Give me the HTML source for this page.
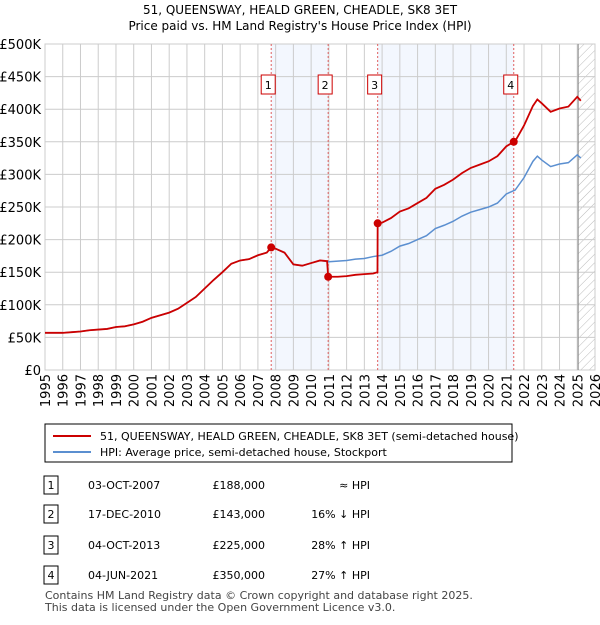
<!DOCTYPE html>
<html><head><meta charset="utf-8"><style>
body{margin:0;background:#fff;font-family:"Liberation Sans","DejaVu Sans",sans-serif;}
svg text{font-family:"DejaVu Sans","Liberation Sans",sans-serif;}
</style></head><body>
<svg id="c" width="600" height="620" xmlns="http://www.w3.org/2000/svg">
<defs><pattern id="hatch" width="6" height="6" patternUnits="userSpaceOnUse" patternTransform="rotate(45)"><line x1="0" y1="0" x2="0" y2="6" stroke="#bbb" stroke-width="1"/></pattern></defs>
<text x="300" y="14" text-anchor="middle" font-size="12">51, QUEENSWAY, HEALD GREEN, CHEADLE, SK8 3ET</text>
<text x="300" y="30" text-anchor="middle" font-size="12">Price paid vs. HM Land Registry's House Price Index (HPI)</text>
<g id="plot"></g>
<rect x="45" y="424" width="467" height="38" fill="#fff" stroke="#000" stroke-width="1"/>
<line x1="53" y1="436" x2="91" y2="436" stroke="#cc0000" stroke-width="2"/>
<text x="100" y="440" font-size="11">51, QUEENSWAY, HEALD GREEN, CHEADLE, SK8 3ET (semi-detached house)</text>
<line x1="53" y1="452" x2="91" y2="452" stroke="#5b8fd0" stroke-width="2"/>
<text x="100" y="456" font-size="11">HPI: Average price, semi-detached house, Stockport</text>
<g id="table"></g>
<text x="45" y="599" font-size="11" fill="#444">Contains HM Land Registry data © Crown copyright and database right 2025.</text>
<text x="45" y="611" font-size="11" fill="#444">This data is licensed under the Open Government Licence v3.0.</text>
</svg>
<script>
const hpiYears=[1995,1995.5,1996,1996.5,1997,1997.5,1998,1998.5,1999,1999.5,2000,2000.5,2001,2001.5,2002,2002.5,2003,2003.5,2004,2004.5,2005,2005.5,2006,2006.5,2007,2007.5,2007.75,2008,2008.5,2009,2009.5,2010,2010.5,2011,2011.5,2012,2012.5,2013,2013.5,2014,2014.5,2015,2015.5,2016,2016.5,2017,2017.5,2018,2018.5,2019,2019.5,2020,2020.5,2021,2021.5,2022,2022.5,2022.75,2023,2023.5,2024,2024.5,2025,2025.2];
const hpiValues=[57,57,57,58,59,61,62,63,66,67,70,74,80,84,88,94,103,112,125,138,150,163,168,170,176,180,188,186,180,162,160,164,168,166,167,168,170,171,174,176,182,190,194,200,206,217,222,228,236,242,246,250,256,270,276,295,320,328,322,312,316,318,330,325];
const priceYears=[1995,1995.5,1996,1996.5,1997,1997.5,1998,1998.5,1999,1999.5,2000,2000.5,2001,2001.5,2002,2002.5,2003,2003.5,2004,2004.5,2005,2005.5,2006,2006.5,2007,2007.5,2007.75,2008,2008.5,2009,2009.5,2010,2010.5,2010.9,2010.96,2011,2011.5,2012,2012.5,2013,2013.5,2013.74,2013.75,2014,2014.5,2015,2015.5,2016,2016.5,2017,2017.5,2018,2018.5,2019,2019.5,2020,2020.5,2021,2021.42,2021.5,2022,2022.5,2022.75,2023,2023.5,2024,2024.5,2025,2025.2];
const priceValues=[57,57,57,58,59,61,62,63,66,67,70,74,80,84,88,94,103,112,125,138,150,163,168,170,176,180,188,186,180,162,160,164,168,167,143,143,143,144,146,147,148,150,225,226,233,243,248,256,264,278,284,292,302,310,315,320,328,343,350,351,375,405,415,409,396,401,404,419,413];
const saleYears=[2007.75,2010.96,2013.75,2021.42];
const saleValues=[188,143,225,350];
const saleLabels=["1","2","3","4"];
const yTicks=[0,50,100,150,200,250,300,350,400,450,500];
const yTickLabels=["£0","£50K","£100K","£150K","£200K","£250K","£300K","£350K","£400K","£450K","£500K"];
const xTicks=[1995,1996,1997,1998,1999,2000,2001,2002,2003,2004,2005,2006,2007,2008,2009,2010,2011,2012,2013,2014,2015,2016,2017,2018,2019,2020,2021,2022,2023,2024,2025,2026];
const tableDates=["03-OCT-2007","17-DEC-2010","04-OCT-2013","04-JUN-2021"];
const tablePrices=["£188,000","£143,000","£225,000","£350,000"];
const tableRel=["≈ HPI","16% ↓ HPI","28% ↑ HPI","27% ↑ HPI"];

const NS="http://www.w3.org/2000/svg";
const L=45,R=595,T=44,B=370;
const x=v=>L+(v-1995)/(2026-1995)*(R-L);
const y=v=>B-v/500*(B-T);
const plot=document.getElementById('plot');
function mk(tag,attrs,parent){const e=document.createElementNS(NS,tag);for(const k in attrs)e.setAttribute(k,attrs[k]);(parent||plot).appendChild(e);return e;}

let r=mk('rect',{x:x(saleYears[0]),y:T,width:x(saleYears[1])-x(saleYears[0]),height:B-T,fill:'#f3f7fe'});


r=mk('rect',{x:x(saleYears[2]),y:T,width:x(saleYears[3])-x(saleYears[2]),height:B-T,fill:'#f3f7fe'});


r=mk('rect',{x:x(2025.05),y:T,width:R-x(2025.05),height:B-T,fill:'url(#hatch)'});



yTicks.forEach((t,i)=>{
  const g=mk('line',{x1:L,x2:R,y1:y(t),y2:y(t),stroke:'#ccc','stroke-width':1});
  
  
  const tx=mk('text',{x:L-4,y:y(t)+5,'text-anchor':'end','font-size':13});
  tx.textContent=yTickLabels[i];
  
  
});
xTicks.forEach(t=>{
  const g=mk('line',{x1:x(t),x2:x(t),y1:T,y2:B,stroke:'#ccc','stroke-width':1});
  
  
  const tx=mk('text',{transform:`translate(${x(t)+5},${B+4}) rotate(-90)`,'text-anchor':'end','font-size':13});
  tx.textContent=t;
  
  
});
const ax=mk('rect',{x:L,y:T,width:R-L,height:B-T,fill:'none',stroke:'#ccc'});


const nl=mk('line',{x1:x(2025.05),x2:x(2025.05),y1:T,y2:B,stroke:'#888','stroke-width':1});



saleYears.forEach((s,i)=>{
  const d=mk('line',{x1:x(s),x2:x(s),y1:T,y2:B,stroke:'#e06060','stroke-width':1,'stroke-dasharray':'2,2'});
  
  
  const bx=mk('rect',{x:x(s)-10,y:75,width:14,height:19,fill:'#fff',stroke:'#cc0000'});
  
  
  const t=mk('text',{x:x(s)-3,y:89,'text-anchor':'middle','font-size':11});
  t.textContent=saleLabels[i];
  
  
});

const hp=mk('polyline',{points:hpiYears.map((v,i)=>x(v)+','+y(hpiValues[i])).join(' '),fill:'none',stroke:'#5b8fd0','stroke-width':1.5});


const pp=mk('polyline',{points:priceYears.map((v,i)=>x(v)+','+y(priceValues[i])).join(' '),fill:'none',stroke:'#cc0000','stroke-width':1.8});


saleYears.forEach((s,i)=>{
  const c=mk('circle',{cx:x(s),cy:y(saleValues[i]),r:4,fill:'#cc0000'});
  
  
});

const tb=document.getElementById('table');
const rowsY=[486,515,546,576];
tableDates.forEach((d,i)=>{
  const yy=rowsY[i];
  const b=mk('rect',{x:44,y:yy-10,width:14,height:18,fill:'#fff',stroke:'#000'},tb);
  
  
  const n=mk('text',{x:51,y:yy+3,'text-anchor':'middle','font-size':11},tb);
  n.textContent=saleLabels[i];
  
  
  const t1=mk('text',{x:88,y:yy+3,'font-size':11},tb);
  t1.textContent=d;
  
  
  const t2=mk('text',{x:265,y:yy+3,'font-size':11,'text-anchor':'end'},tb);
  t2.textContent=tablePrices[i];
  
  
  const t3=mk('text',{x:370,y:yy+3,'font-size':11,'text-anchor':'end'},tb);
  t3.textContent=tableRel[i];
  
  
});
</script>
</body></html>
